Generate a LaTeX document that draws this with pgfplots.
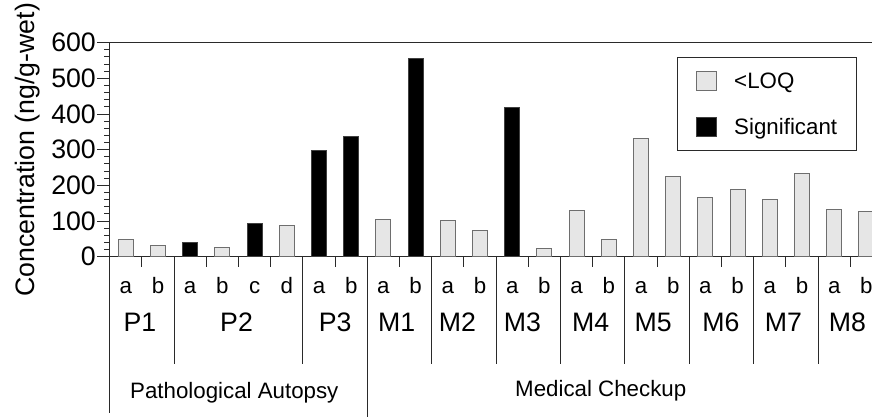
\documentclass[border=0pt]{standalone}
\usepackage{fontspec}
\setmainfont{Liberation Sans}
\usepackage{pgfplots}
\pgfplotsset{compat=1.18}
\usepackage{pgfplotstable}

\pgfplotstableread{
x y
0 48
1 31
3 25
5 88
8 103
10 101
11 74
13 23
14 129
15 49
16 332
17 224
18 165
19 189
20 160
21 234
22 133
23 126
}\loq
\pgfplotstableread{
x y
2 41
4 94
6 297
7 336
9 556
12 419
}\sig

\definecolor{barfill}{HTML}{E6E6E6}
\definecolor{barline}{HTML}{6E6E6E}
\definecolor{axline}{HTML}{2A2A2A}
\tikzset{sepl/.style={line width=1bp, axline},
  glab/.style={font=\fbig, anchor=base, inner sep=0pt, yshift=-75bp}}

\newcommand\fbig{\fontsize{26.7bp}{32bp}\selectfont}
\newcommand\fsmall{\fontsize{22.3bp}{27bp}\selectfont}

\begin{document}
\begin{tikzpicture}
\useasboundingbox (-109.7bp,-160.3bp) rectangle (762.3bp,256.7bp);
\clip (-109.7bp,-160.3bp) rectangle (762.3bp,256.7bp);
\begin{axis}[
  at={(0,0)}, anchor=south west,
  x=32.2bp, y=0.35667bp,
  xmin=-0.5, xmax=23.5, ymin=0, ymax=600,
  enlargelimits=false, clip=false,
  ybar, bar width=15bp, bar shift=0pt,
  axis line style={line width=1bp, axline},
  ytick={0,100,...,600}, minor y tick num=4,
  ytick pos=left, tick align=outside,
  major tick length=12.7bp, minor tick length=5.5bp,
  every tick/.append style={line width=1bp, axline},
  xtick={0,...,23},
  xticklabels={a,b,a,b,c,d,a,b,a,b,a,b,a,b,a,b,a,b,a,b,a,b,a,b},
  xtick style={draw=none},
  xticklabel style={font=\fsmall, anchor=base, yshift=-23.9bp, inner sep=0pt},
  yticklabel style={font=\fbig, inner sep=0pt, anchor=east, xshift=-1bp},
  /pgf/number format/assume math mode=true,
  ylabel={Concentration (ng/g-wet)},
  every axis y label/.style={at={(axis cs:-3.037,300)}, rotate=90, anchor=center, font=\fbig},
  legend style={at={(axis cs:17.11,559)}, anchor=north west, draw=axline, line width=1bp,
    font=\fsmall, inner xsep=19bp, inner ysep=13.5bp, row sep=26bp,
    nodes={inner sep=0pt, text height=16bp, text depth=0bp},
    cells={anchor=west},
    /tikz/every odd column/.append style={column sep=17bp}},
  legend image code/.code={\draw[#1, line width=1bp] (0bp,-10.4bp) rectangle (20bp,8.6bp);},
]
\addplot[fill=barfill, draw=barline, line width=1bp] table[x=x,y=y] {\loq};
\addlegendentry{<LOQ}
\addplot[fill=black, draw=black!75, line width=1bp] table[x=x,y=y] {\sig};
\addlegendentry{Significant}

\pgfplotsinvokeforeach{0.5,2.5,3.5,4.5,6.5,8.5,10.5,12.5,14.5,16.5,18.5,20.5,22.5}{
  \draw[sepl] (axis cs:#1,0) -- ([yshift=-10.6bp]axis cs:#1,0);
}
\pgfplotsinvokeforeach{1.5,5.5,9.5,11.5,13.5,15.5,17.5,19.5,21.5}{
  \draw[sepl] (axis cs:#1,0) -- ([yshift=-107bp]axis cs:#1,0);
}
\draw[sepl] (axis cs:-0.5,0) -- ([yshift=-156.3bp]axis cs:-0.5,0);
\draw[sepl] (axis cs:7.5,0) -- ([yshift=-170bp]axis cs:7.5,0);

\node[glab] at (axis cs:0.44,0) {P1};
\node[glab] at (axis cs:3.44,0) {P2};
\node[glab] at (axis cs:6.5,0) {P3};
\node[glab] at (axis cs:8.41,0) {M1};
\node[glab] at (axis cs:10.3,0) {M2};
\node[glab] at (axis cs:12.32,0) {M3};
\node[glab] at (axis cs:14.44,0) {M4};
\node[glab] at (axis cs:16.38,0) {M5};
\node[glab] at (axis cs:18.48,0) {M6};
\node[glab] at (axis cs:20.42,0) {M7};
\node[glab] at (axis cs:22.41,0) {M8};
\node[font=\fsmall, anchor=base, inner sep=0pt, yshift=-141.6bp] at (axis cs:3.37,0) {Pathological Autopsy};
\node[font=\fsmall, anchor=base, inner sep=0pt, yshift=-140bp] at (axis cs:14.75,0) {Medical Checkup};
\end{axis}
\end{tikzpicture}
\end{document}
